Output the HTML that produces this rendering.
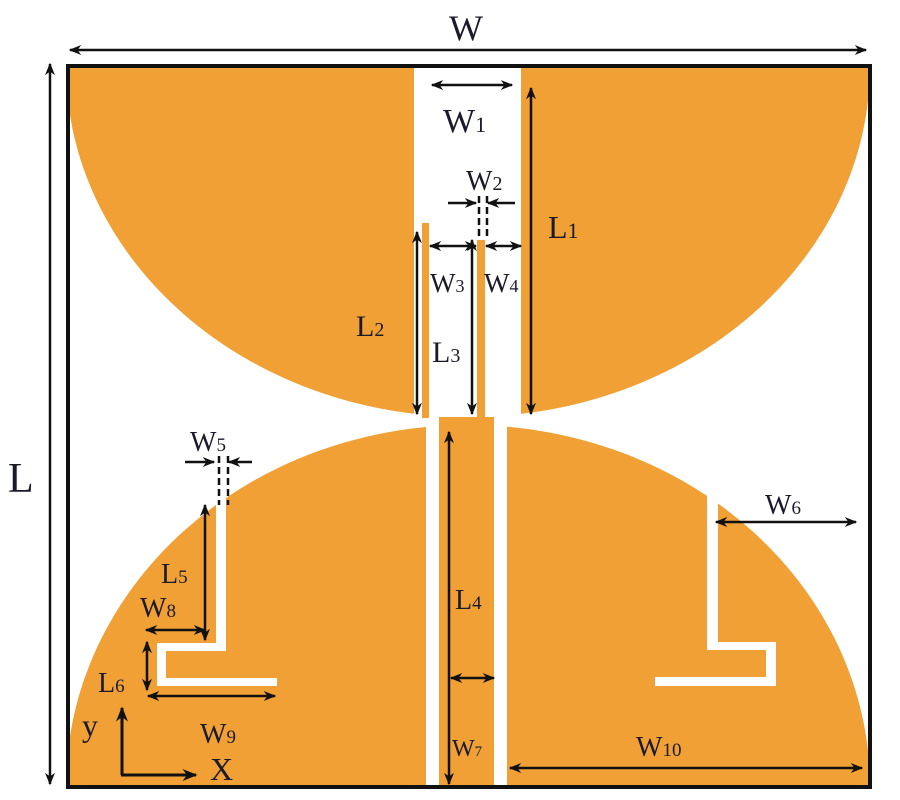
<!DOCTYPE html>
<html><head><meta charset="utf-8"><style>
html,body{margin:0;padding:0;background:#fff;width:900px;height:800px;overflow:hidden;position:relative;}
svg{display:block;position:absolute;left:0;top:0;overflow:hidden}
text{font-family:"Liberation Serif",serif;fill:#1a1a2a;}
</style></head><body>
<svg width="900" height="800" viewBox="0 0 900 800" xmlns="http://www.w3.org/2000/svg">
<defs>
<marker id="a" viewBox="0 0 10 10" refX="9" refY="5" markerWidth="5" markerHeight="5" orient="auto-start-reverse" markerUnits="strokeWidth">
<path d="M0,1 L10,5 L0,9 L3,5 z" fill="#111"/></marker>
<clipPath id="fr"><rect x="68" y="66" width="802" height="721"/></clipPath>
</defs>
<rect width="900" height="800" fill="#fff"/>
<g clip-path="url(#fr)" fill="#F0A035">
<ellipse cx="468" cy="66" rx="402" ry="351"/>
<ellipse cx="468" cy="787" rx="402" ry="362"/>
</g>
<g fill="#fff">
<rect x="414" y="60" width="107" height="357"/>
<rect x="426" y="418" width="13" height="369"/>
<rect x="494" y="418" width="13" height="369"/>
<rect x="216" y="440" width="10" height="211"/>
<rect x="157" y="643" width="69" height="8"/>
<rect x="157" y="643" width="9" height="43"/>
<rect x="157" y="678" width="120" height="8"/>
<rect x="707" y="440" width="11" height="210"/>
<rect x="707" y="642" width="69" height="8"/>
<rect x="766" y="642" width="10" height="44"/>
<rect x="655" y="677" width="121" height="9"/>
</g>
<g fill="#F0A035">
<rect x="422" y="223" width="7" height="195"/>
<rect x="477" y="240" width="8" height="178"/>
<rect x="439" y="417" width="55" height="370"/>
</g>
<rect x="68" y="66" width="802" height="721" fill="none" stroke="#111" stroke-width="4"/>
<g stroke="#111" stroke-width="2.5" fill="none">
<line x1="70" y1="50" x2="866" y2="50" marker-start="url(#a)" marker-end="url(#a)"/>
<line x1="50" y1="64" x2="50" y2="784" marker-start="url(#a)" marker-end="url(#a)"/>
<line x1="432" y1="85" x2="512" y2="85" marker-start="url(#a)" marker-end="url(#a)"/>
<line x1="448" y1="203" x2="476" y2="203" marker-end="url(#a)"/>
<line x1="515" y1="203" x2="488" y2="203" marker-end="url(#a)"/>
<line x1="531" y1="88" x2="531" y2="414" marker-start="url(#a)" marker-end="url(#a)"/>
<line x1="417" y1="232" x2="417" y2="414" marker-start="url(#a)" marker-end="url(#a)"/>
<line x1="430" y1="246" x2="476" y2="246" marker-start="url(#a)" marker-end="url(#a)"/>
<line x1="486" y1="246" x2="521" y2="246" marker-start="url(#a)" marker-end="url(#a)"/>
<line x1="472" y1="240" x2="472" y2="414" marker-start="url(#a)" marker-end="url(#a)"/>
<line x1="449" y1="432" x2="449" y2="784" marker-start="url(#a)" marker-end="url(#a)"/>
<line x1="451" y1="678" x2="494" y2="678" marker-start="url(#a)" marker-end="url(#a)"/>
<line x1="185" y1="462" x2="214" y2="462" marker-end="url(#a)"/>
<line x1="252" y1="462" x2="229" y2="462" marker-end="url(#a)"/>
<line x1="205" y1="505" x2="205" y2="640" marker-start="url(#a)" marker-end="url(#a)"/>
<line x1="146" y1="630" x2="205" y2="630" marker-start="url(#a)" marker-end="url(#a)"/>
<line x1="147" y1="642" x2="147" y2="690" marker-start="url(#a)" marker-end="url(#a)"/>
<line x1="148" y1="696" x2="275" y2="696" marker-start="url(#a)" marker-end="url(#a)"/>
<line x1="716" y1="522" x2="856" y2="522" marker-start="url(#a)" marker-end="url(#a)"/>
<line x1="510" y1="768" x2="862" y2="768" marker-start="url(#a)" marker-end="url(#a)"/>
<line x1="122" y1="775" x2="122" y2="708" stroke-width="3" marker-end="url(#a)"/>
<line x1="121" y1="775" x2="196" y2="775" stroke-width="3" marker-end="url(#a)"/>
</g>
<g stroke="#111" stroke-width="2.5" stroke-dasharray="7,4">
<line x1="479" y1="196" x2="479" y2="240"/>
<line x1="487" y1="196" x2="487" y2="240"/>
<line x1="219" y1="456" x2="219" y2="505"/>
<line x1="228" y1="456" x2="228" y2="505"/>
</g>
<text x="449" y="40" font-size="36">W</text>
<text x="8" y="492" font-size="42">L</text>
<text x="443" y="132" font-size="34">W<tspan font-size="22">1</tspan></text>
<text x="466" y="190" font-size="28">W<tspan font-size="20">2</tspan></text>
<text x="548" y="238" font-size="32">L<tspan font-size="22">1</tspan></text>
<text x="356" y="336" font-size="30">L<tspan font-size="20">2</tspan></text>
<text x="430" y="292" font-size="27">W<tspan font-size="18">3</tspan></text>
<text x="484" y="292" font-size="27">W<tspan font-size="18">4</tspan></text>
<text x="432" y="362" font-size="30">L<tspan font-size="20">3</tspan></text>
<text x="455" y="609" font-size="28">L<tspan font-size="19">4</tspan></text>
<text x="452" y="756" font-size="24">W<tspan font-size="15">7</tspan></text>
<text x="190" y="451" font-size="28">W<tspan font-size="19">5</tspan></text>
<text x="161" y="583" font-size="28">L<tspan font-size="19">5</tspan></text>
<text x="140" y="617" font-size="28">W<tspan font-size="19">8</tspan></text>
<text x="98" y="692" font-size="28">L<tspan font-size="19">6</tspan></text>
<text x="200" y="743" font-size="28">W<tspan font-size="19">9</tspan></text>
<text x="765" y="514" font-size="28">W<tspan font-size="19">6</tspan></text>
<text x="636" y="756" font-size="28">W<tspan font-size="19">10</tspan></text>
<text x="82" y="736" font-size="32">y</text>
<text x="210" y="780" font-size="32">X</text>
</svg>
</body></html>
